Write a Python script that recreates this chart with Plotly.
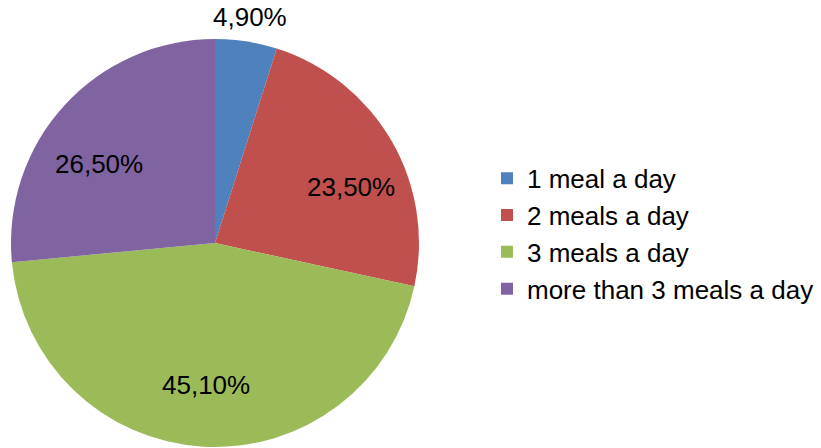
import math
import plotly.graph_objects as go

# Share of respondents by number of meals per day
categories = ["1 meal a day", "2 meals a day", "3 meals a day", "more than 3 meals a day"]
shares = [4.90, 23.50, 45.10, 26.50]
colors = ["#4F81BD", "#C0504D", "#9BBB59", "#8064A2"]
outside = [True, False, False, False]

W, H = 821, 448
FONT = "Liberation Sans, Arial, sans-serif"

# pie box in pixels (left, top, size)
box_l, box_t, box_s = 11, 39, 408
cx = box_l + box_s / 2
cy = box_t + box_s / 2
R = box_s / 2

fig = go.Figure(
    go.Pie(
        labels=categories,
        values=shares,
        sort=False,
        direction="clockwise",
        rotation=0,
        marker=dict(colors=colors, line=dict(width=0)),
        textinfo="none",
        domain=dict(x=[box_l / W, (box_l + box_s) / W],
                    y=[(H - box_t - box_s) / H, (H - box_t) / H]),
        hoverinfo="label+percent",
    )
)

# value labels placed along each slice's mid-angle
total = sum(shares)
start = 0.0
for v, out in zip(shares, outside):
    mid = (start + v / 2) / total * 2 * math.pi
    start += v
    if out:
        px = cx + R * 1.12 * math.sin(mid)
        py = cy - R * 1.12 * math.cos(mid)
    else:
        px = cx + R * 0.77 * math.sin(mid)
        py = cy - R * 0.65 * math.cos(mid) + 10
    fig.add_annotation(
        x=px / W, y=1 - py / H, xref="paper", yref="paper",
        text=f"{v:.2f}%".replace(".", ","),
        showarrow=False, xanchor="center", yanchor="middle",
        font=dict(family=FONT, size=26, color="black"),
    )

fig.update_layout(
    width=W,
    height=H,
    margin=dict(l=0, r=0, t=0, b=0),
    paper_bgcolor="white",
    plot_bgcolor="white",
    font=dict(family=FONT, size=26, color="black"),
    legend=dict(
        x=487 / W,
        y=0.478,
        xanchor="left",
        yanchor="middle",
        font=dict(family=FONT, size=26, color="black"),
        traceorder="normal",
        itemwidth=30,
    ),
)

fig.write_html("out.html")
